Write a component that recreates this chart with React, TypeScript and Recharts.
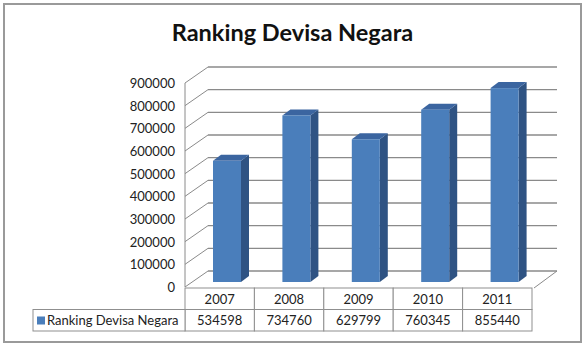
import React from 'react';
import { BarChart, Bar, XAxis, YAxis, CartesianGrid } from 'recharts';

const chartTitle = 'Ranking Devisa Negara';
const seriesName = 'Ranking Devisa Negara';
const categories = ['2007', '2008', '2009', '2010', '2011'];
const seriesValues = [534598, 734760, 629799, 760345, 855440];
const yTicks = [0, 100000, 200000, 300000, 400000, 500000, 600000, 700000, 800000, 900000];

const data = categories.map((c, i) => ({ year: c, value: seriesValues[i] }));

const W = 585;
const H = 347;
const DEPTH_X = 23;
const DEPTH_Y = -16;
const FONT = 'Lato, "Open Sans", sans-serif';
const GRID = '#8a8a8a';
const TABLE = '#8f8f8f';

const Bar3D = (props: any) => {
  const { x, y, width, height } = props;
  if (height == null || isNaN(height)) return null;
  const fx = x + 7;
  const fy = y - 5;
  const dx = 8;
  const dy = -6;
  return (
    <g>
      <polygon
        points={`${fx + width},${fy} ${fx + width + dx},${fy + dy} ${fx + width + dx},${fy + height + dy} ${fx + width},${fy + height}`}
        fill="#2f5383"
      />
      <polygon
        points={`${fx},${fy} ${fx + dx},${fy + dy} ${fx + width + dx},${fy + dy} ${fx + width},${fy}`}
        fill="#3b65a0"
      />
      <rect x={fx} y={fy} width={width} height={height} fill="#4a7ebb" />
    </g>
  );
};

const gridLine = (props: any) => {
  const { x1, x2, y1, index } = props;
  const isBottom = y1 > 280;
  return (
    <g key={`g-${index}-${y1}`}>
      <line x1={x1} y1={y1} x2={x1 + DEPTH_X} y2={y1 + DEPTH_Y} stroke={GRID} strokeWidth={1} />
      <line x1={x1 + DEPTH_X} y1={y1 + DEPTH_Y} x2={x2 + 25} y2={y1 + DEPTH_Y} stroke={GRID} strokeWidth={1.3} />
      {isBottom && (
        <line x1={x2 + 2} y1={y1 + 1} x2={x2 + 25} y2={y1 + DEPTH_Y} stroke={GRID} strokeWidth={1} />
      )}
    </g>
  );
};

const YTick = (props: any) => {
  const { y, payload } = props;
  return (
    <text x={175} y={y} dy={5} textAnchor="end" fontFamily={FONT} fontSize={13} fill="#222">
      {payload.value}
    </text>
  );
};

const TOP = 288;
const ROW = 21.5;

const XTick = (props: any) => {
  const { x, payload, index } = props;
  const band = 69.4;
  const left = x - band / 2;
  const val = seriesValues[index];
  return (
    <g>
      <rect x={left} y={TOP} width={band} height={ROW} fill="#fff" stroke={TABLE} strokeWidth={1} />
      <rect x={left} y={TOP + ROW} width={band} height={ROW} fill="#fff" stroke={TABLE} strokeWidth={1} />
      <text x={x} y={TOP + 15.5} textAnchor="middle" fontFamily={FONT} fontSize={13} fill="#222">
        {payload.value}
      </text>
      <text x={x} y={TOP + ROW + 15.5} textAnchor="middle" fontFamily={FONT} fontSize={13} fill="#222">
        {val}
      </text>
      {index === 0 && (
        <g>
          <rect x={33} y={TOP + ROW} width={left - 33} height={ROW} fill="#fff" stroke={TABLE} strokeWidth={1} />
          <rect x={37} y={TOP + ROW + 7} width={8} height={8} fill="#4a7ebb" />
          <text x={47} y={TOP + ROW + 15.5} fontFamily={FONT} fontSize={13} fill="#222">
            {seriesName}
          </text>
        </g>
      )}
    </g>
  );
};

export default function App() {
  return (
    <div style={{ position: 'absolute', left: 0, top: 0, width: W, height: H, background: '#fff' }}>
      <div
        style={{
          position: 'absolute',
          left: 3,
          top: 3,
          width: 575,
          height: 336,
          border: '2px solid #9a9a9a',
        }}
      />
      <div
        style={{
          position: 'absolute',
          left: 0,
          top: 17,
          width: W,
          textAlign: 'center',
          fontFamily: FONT,
          fontWeight: 700,
          fontSize: 23.5,
          color: '#111',
          lineHeight: '30px',
        }}
      >
        {chartTitle}
      </div>
      <div style={{ position: 'absolute', left: 0, top: 0 }}>
        <BarChart
          width={W}
          height={H}
          data={data}
          margin={{ top: 83, right: 53, bottom: 0, left: 0 }}
          barSize={28}
        >
          <CartesianGrid vertical={false} horizontal={gridLine} />
          <XAxis
            dataKey="year"
            height={60}
            axisLine={false}
            tickLine={false}
            tick={<XTick />}
            interval={0}
          />
          <YAxis
            width={185}
            domain={[0, 900000]}
            ticks={yTicks}
            interval={0}
            axisLine={{ stroke: GRID, strokeWidth: 1 }}
            tickLine={false}
            tick={<YTick />}
          />
          <Bar dataKey="value" shape={<Bar3D />} isAnimationActive={false} />
        </BarChart>
      </div>
    </div>
  );
}
